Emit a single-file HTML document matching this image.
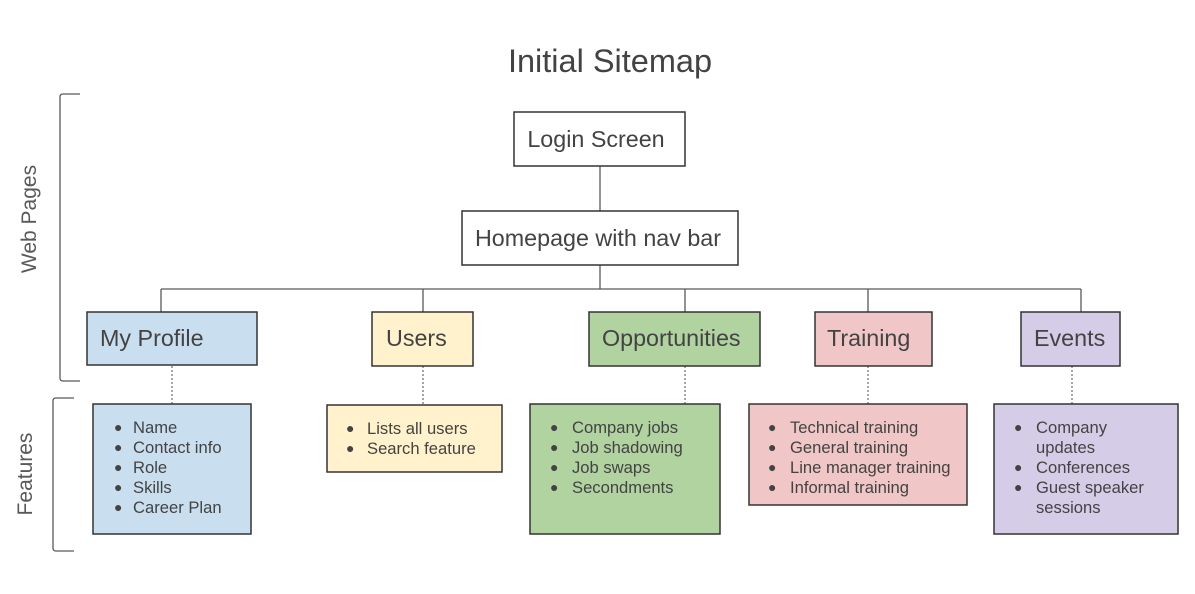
<!DOCTYPE html>
<html><head><meta charset="utf-8"><style>
body{margin:0;background:#fff;}
svg{display:block;font-family:"Liberation Sans",Arial,sans-serif;}
.t{fill:#434343;font-size:23.3px;}
.l{fill:#434343;font-size:16.6px;}
.b{fill:#434343;font-size:14px;}
</style></head><body>
<svg width="1195" height="594" viewBox="0 0 1195 594">
<rect width="1195" height="594" fill="#fff"/>
<text x="610" y="72" text-anchor="middle" font-size="32.5" fill="#434343">Initial Sitemap</text>
<path d="M80 94 L63 94 Q60 94 60 97 L60 378 Q60 381 63 381 L80 381" fill="none" stroke="#595959" stroke-width="1.3"/>
<path d="M74 398 L56 398 Q53 398 53 401 L53 548 Q53 551 56 551 L74 551" fill="none" stroke="#595959" stroke-width="1.3"/>
<text transform="translate(36,219) rotate(-90)" text-anchor="middle" font-size="21" fill="#595959">Web Pages</text>
<text transform="translate(32,474) rotate(-90)" text-anchor="middle" font-size="21" fill="#595959">Features</text>
<g stroke="#595959" stroke-width="1.3" fill="none">
<path d="M600 166V211M600 265V289M161 289H1081M161 289V312M423 289V312M685 289V312M868 289V312M1081 289V312"/>
</g>
<g stroke="#777" stroke-width="1.3" stroke-dasharray="2,2">
<path d="M172 366V404M423 366V405M685 366V404M868 366V404M1072 366V404"/>
</g>
<g stroke="#333" stroke-width="1.5">
<rect x="514" y="112" width="171" height="54" fill="#fff"/>
<rect x="462" y="211" width="276" height="54" fill="#fff"/>
<rect x="87" y="312" width="170" height="53" fill="#c9dff0"/>
<rect x="372" y="312" width="101" height="54" fill="#fff2cc"/>
<rect x="589" y="312" width="171" height="54" fill="#b0d3a0"/>
<rect x="815" y="312" width="117" height="54" fill="#f0c6c6"/>
<rect x="1021" y="312" width="99" height="54" fill="#d5cce7"/>
<rect x="93" y="404" width="158" height="130" fill="#c9dff0"/>
<rect x="327" y="405" width="175" height="67" fill="#fff2cc"/>
<rect x="530" y="404" width="190" height="130" fill="#b0d3a0"/>
<rect x="749" y="404" width="218" height="101" fill="#f0c6c6"/>
<rect x="994" y="404" width="184" height="130" fill="#d5cce7"/>
</g>
<text class="t" x="596" y="147" text-anchor="middle" font-size="23.8">Login Screen</text>
<text class="t" x="598" y="246" text-anchor="middle" font-size="23.8">Homepage with nav bar</text>
<text class="t" x="100" y="346">My Profile</text>
<text class="t" x="386" y="346">Users</text>
<text class="t" x="602" y="346">Opportunities</text>
<text class="t" x="827" y="346">Training</text>
<text class="t" x="1034" y="346">Events</text>
<text x="114" y="432" class="b">●</text><text x="133" y="433" class="l">Name</text>
<text x="114" y="452" class="b">●</text><text x="133" y="453" class="l">Contact info</text>
<text x="114" y="472" class="b">●</text><text x="133" y="473" class="l">Role</text>
<text x="114" y="492" class="b">●</text><text x="133" y="493" class="l">Skills</text>
<text x="114" y="512" class="b">●</text><text x="133" y="513" class="l">Career Plan</text>
<text x="346" y="433" class="b">●</text><text x="367" y="434" class="l">Lists all users</text>
<text x="346" y="453" class="b">●</text><text x="367" y="454" class="l">Search feature</text>
<text x="550" y="432" class="b">●</text><text x="572" y="433" class="l">Company jobs</text>
<text x="550" y="452" class="b">●</text><text x="572" y="453" class="l">Job shadowing</text>
<text x="550" y="472" class="b">●</text><text x="572" y="473" class="l">Job swaps</text>
<text x="550" y="492" class="b">●</text><text x="572" y="493" class="l">Secondments</text>
<text x="768" y="432" class="b">●</text><text x="790" y="433" class="l">Technical training</text>
<text x="768" y="452" class="b">●</text><text x="790" y="453" class="l">General training</text>
<text x="768" y="472" class="b">●</text><text x="790" y="473" class="l">Line manager training</text>
<text x="768" y="492" class="b">●</text><text x="790" y="493" class="l">Informal training</text>
<text x="1014" y="432" class="b">●</text><text x="1036" y="433" class="l">Company</text>
<text x="1036" y="453" class="l">updates</text>
<text x="1014" y="472" class="b">●</text><text x="1036" y="473" class="l">Conferences</text>
<text x="1014" y="492" class="b">●</text><text x="1036" y="493" class="l">Guest speaker</text>
<text x="1036" y="513" class="l">sessions</text>
</svg>
</body></html>
